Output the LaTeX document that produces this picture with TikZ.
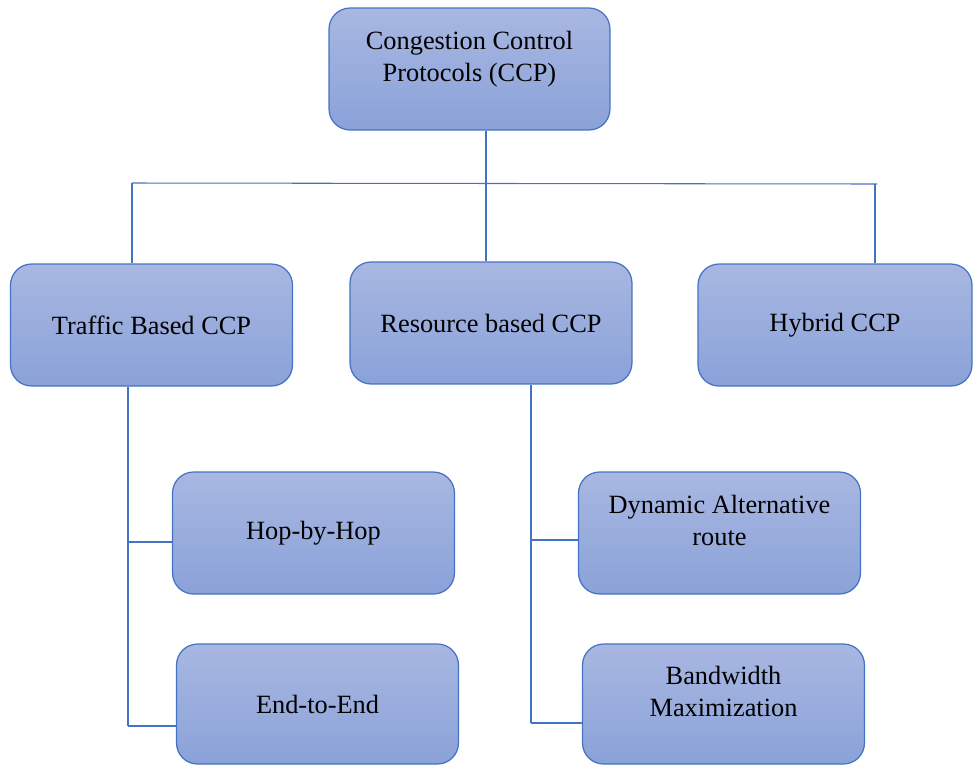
\documentclass[tikz,border=0pt]{standalone}
\usepackage{fontspec}
\setmainfont{Liberation Serif}
\usepackage{xcolor}
\usepackage{tikz}
\usetikzlibrary{positioning, calc}

\definecolor{boxtop}{RGB}{169,183,225}
\definecolor{boxbot}{RGB}{138,162,217}
\definecolor{boxline}{RGB}{68,114,196}

\tikzset{
  ccpbox/.style={draw=boxline, line width=0.7pt, rounded corners=0.42cm,
                 top color=boxtop, bottom color=boxbot,
                 minimum width=5.64cm, minimum height=2.44cm, inner sep=0pt,
                 align=center, text=black,
                 font=\fontsize{15}{18.2}\selectfont},
  link/.style={draw=boxline, line width=0.6pt}
}

\begin{document}
\begin{tikzpicture}[x=0.02cm, y=-0.02cm]

  \useasboundingbox (0,0) rectangle (973,765);

  %% ── Root ───────────────────────────────────────────────────
  \node[ccpbox, minimum width=5.62cm] (ccp) at (469.5, 69)
    {Congestion Control\\Protocols (CCP)\\[-9pt]\strut};

  %% ── Main classes ───────────────────────────────────────────
  \node[ccpbox] (traffic)  at (151.5, 325) {Traffic Based CCP};
  \node[ccpbox] (resource) at (491, 323)   {Resource based CCP};
  \node[ccpbox, minimum width=5.48cm] (hybrid) at (835, 325) {Hybrid CCP};

  %% ── Sub classes ────────────────────────────────────────────
  \node[ccpbox] (hop) at (313.5, 533) {Hop-by-Hop};
  \node[ccpbox, minimum height=2.4cm] (end) at (317.5, 704) {End-to-End};
  \node[ccpbox] (dyn) at (719.5, 533)
    {Dynamic Alternative\\route\\[-9pt]\strut};
  \node[ccpbox, minimum height=2.4cm] (band) at (723.5, 704)
    {Bandwidth\\Maximization\\[-9pt]\strut};

  %% ── Bus below the root ─────────────────────────────────────
  \coordinate (busL) at (132, 183);
  \coordinate (busR) at (877, 184);
  \coordinate (busM) at (486, 183);
  \draw[link] (busL) -- (busR);
  \draw[link] (ccp.south -| busM) -- (resource.north -| busM);
  \draw[link] (busL) -- (busL |- traffic.north);
  \draw[link] (875, 184) coordinate (busH) -- (busH |- hybrid.north);

  %% ── Traffic based branch ───────────────────────────────────
  \coordinate (tj1) at (128, 542);
  \coordinate (tj2) at (128, 726);
  \draw[link] (tj1 |- traffic.south) -- (tj2);
  \draw[link] (tj1) -- (tj1 -| hop.west);
  \draw[link] (tj2) -- (tj2 -| end.west);

  %% ── Resource based branch ──────────────────────────────────
  \coordinate (rj1) at (531, 540);
  \coordinate (rj2) at (531, 723);
  \draw[link] (rj1 |- resource.south) -- (rj2);
  \draw[link] (rj1) -- (rj1 -| dyn.west);
  \draw[link] (rj2) -- (rj2 -| band.west);

\end{tikzpicture}
\end{document}
